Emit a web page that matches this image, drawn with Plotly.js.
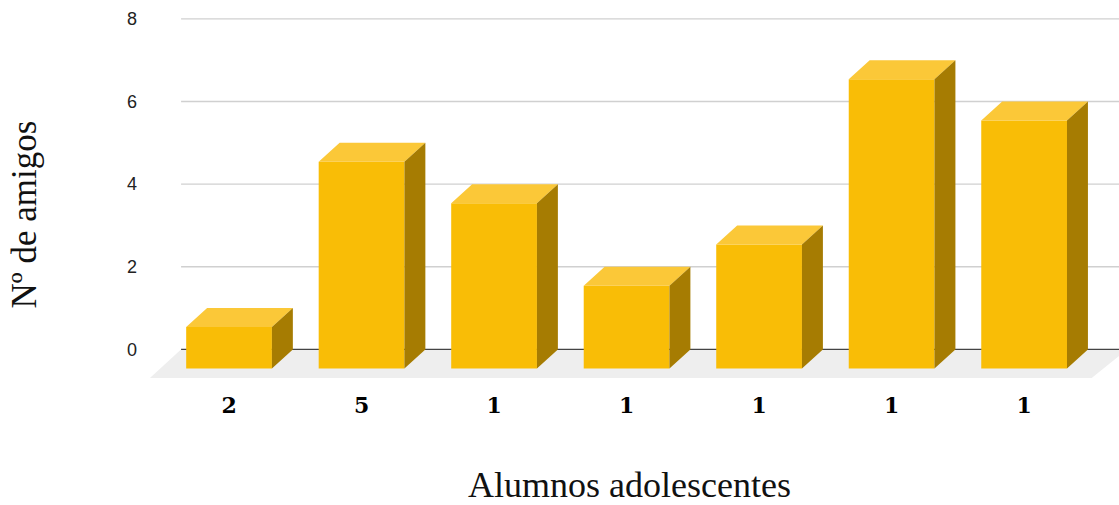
<!DOCTYPE html>
<html>
<head>
<meta charset="utf-8">
<script src="https://cdn.plot.ly/plotly-3.0.1.min.js"></script>
<style>
html,body{margin:0;padding:0;background:#fff;}
#chart{width:1119px;height:505px;}
</style>
</head>
<body>
<div id="chart"></div>
<script>
// ---- data ----
const categories = ['2', '5', '1', '1', '1', '1', '1'];
const values = [1, 5, 4, 2, 3, 7, 6];
const yTicks = [0, 2, 4, 6, 8];
const xTitle = 'Alumnos adolescentes';
const yTitle = 'Nº de amigos';

// ---- 3D geometry (style) ----
const DX = 0.158;   // depth offset in category units
const DY = 0.46;    // depth offset in y units
const W = 0.647;    // bar width

const idx = categories.map((_, i) => i);
const frontX = idx.map(i => i - DX);

const topX = [], topY = [], sideX = [], sideY = [];
idx.forEach(i => {
  const v = values[i];
  const xL = frontX[i] - W / 2, xR = frontX[i] + W / 2;
  topX.push(xL, xR, xR + DX, xL + DX, null);
  topY.push(v - DY, v - DY, v, v, null);
  sideX.push(xR, xR, xR + DX, xR + DX, null);
  sideY.push(-DY, v - DY, v, 0, null);
});

const traces = [
  {type: 'bar', x: frontX, y: values, base: idx.map(() => -DY), width: W,
   marker: {color: '#f9bd06', line: {width: 0}}, hoverinfo: 'skip', showlegend: false},
  {type: 'scatter', mode: 'lines', x: topX, y: topY, fill: 'toself',
   fillcolor: '#fbc838', line: {width: 0, color: 'rgba(0,0,0,0)'}, hoverinfo: 'skip', showlegend: false},
  {type: 'scatter', mode: 'lines', x: sideX, y: sideY, fill: 'toself',
   fillcolor: '#a67c02', line: {width: 0, color: 'rgba(0,0,0,0)'}, hoverinfo: 'skip', showlegend: false}
];

const XR = [-0.830, 6.558];
const shapes = [
  {type: 'path', xref: 'x', yref: 'y', layer: 'below',
   path: 'M -0.521,0 L 6.62,0 L 6.352,-0.695 L -0.755,-0.695 Z',
   fillcolor: '#eeeeee', line: {width: 0}}
];
yTicks.forEach(t => {
  shapes.push({type: 'line', xref: 'x', yref: 'y', layer: 'below',
    x0: -0.52, x1: XR[1], y0: t, y1: t,
    line: {color: t === 0 ? '#444444' : '#d0d0d0', width: t === 0 ? 1.4 : 1.3}});
});

const layout = {
  width: 1119, height: 505,
  margin: {l: 140, r: 0, t: 11, b: 118, pad: 0},
  paper_bgcolor: '#ffffff', plot_bgcolor: 'rgba(0,0,0,0)',
  showlegend: false,
  xaxis: {
    range: XR, showgrid: false, zeroline: false, showline: false, ticks: '',
    tickmode: 'array', tickvals: frontX, ticktext: categories, ticklabelstandoff: 3,
    tickfont: {family: 'DejaVu Serif', size: 22, color: '#000000', weight: 'bold'},
    title: {text: xTitle, font: {family: 'Liberation Serif', size: 36, color: '#111111'}, standoff: 55}
  },
  yaxis: {
    range: [-0.91, 8.19], showgrid: false, zeroline: false, showline: false, ticks: '',
    tickmode: 'array', tickvals: yTicks, ticktext: yTicks.map(String), ticklabelstandoff: 2,
    tickfont: {family: 'Liberation Sans', size: 18, color: '#222222'}
  },
  annotations: [
    {text: yTitle, xref: 'paper', yref: 'paper', x: -140 / 979, y: (505 - 215 - 118) / 376,
     xanchor: 'left', yanchor: 'middle', textangle: -90, showarrow: false, xshift: 2,
     font: {family: 'Liberation Serif', size: 35, color: '#111111'}}
  ],
  shapes: shapes
};

Plotly.newPlot('chart', traces, layout, {displayModeBar: false, staticPlot: true});
</script>
</body>
</html>
